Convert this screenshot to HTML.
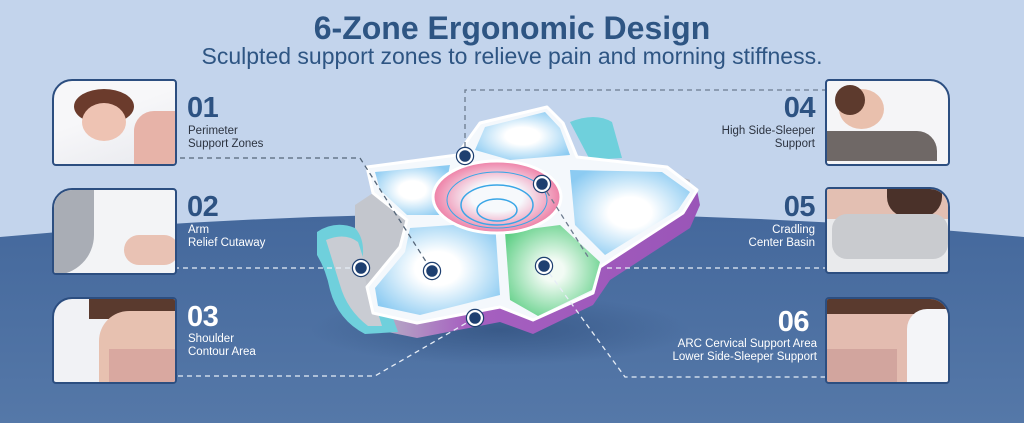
<!DOCTYPE html>
<html><head><meta charset="utf-8"><style>
body{margin:0;width:1024px;height:423px;overflow:hidden;font-family:"Liberation Sans",sans-serif;}
.wrap{position:relative;width:1024px;height:423px;background:#c3d4ec;}
.t{position:absolute;left:0;width:1024px;text-align:center;color:#2e5583;}
.card{position:absolute;width:121px;height:83px;border:2px solid #2c4e80;border-radius:4px;overflow:hidden;background:#f4f5f8;}
.L{border-top-left-radius:20px;}
.R{border-top-right-radius:20px;}
.num{position:absolute;font-weight:bold;font-size:29px;line-height:30px;letter-spacing:-0.5px;}
.lab{position:absolute;font-size:11.5px;line-height:13px;}
</style></head><body><div class="wrap">
<svg width="1024" height="423" style="position:absolute;left:0;top:0">
<defs>
<linearGradient id="bg" x1="0" y1="0" x2="0" y2="1"><stop offset="0" stop-color="#44689c"/><stop offset="1" stop-color="#5578a8"/></linearGradient>
<radialGradient id="pan" cx="0.5" cy="0.5" r="0.6"><stop offset="0.3" stop-color="#ffffff"/><stop offset="1" stop-color="#8ccbf2"/></radialGradient>
<radialGradient id="grn" cx="0.5" cy="0.5" r="0.6"><stop offset="0.2" stop-color="#f2fbf4"/><stop offset="1" stop-color="#5fcf86"/></radialGradient>
<radialGradient id="pk" cx="0.5" cy="0.5" r="0.5"><stop offset="0.4" stop-color="#f6f9fc"/><stop offset="1" stop-color="#ee7fa6"/></radialGradient>
<linearGradient id="side" x1="0" y1="0" x2="1" y2="0"><stop offset="0" stop-color="#b9bcc6"/><stop offset="0.3" stop-color="#a660c0"/><stop offset="1" stop-color="#9a55b8"/></linearGradient>
<radialGradient id="sh" cx="0.5" cy="0.5" r="0.5"><stop offset="0" stop-color="#2c4b78" stop-opacity="0.6"/><stop offset="1" stop-color="#2c4b78" stop-opacity="0"/></radialGradient>
</defs>
<path d="M0,237 Q512,190 1024,237 L1024,423 L0,423Z" fill="url(#bg)"/>
<ellipse cx="500" cy="330" rx="190" ry="35" fill="url(#sh)"/>
<!-- back teal -->
<path d="M570,122 Q595,112 612,122 L622,158 L590,160Z" fill="#6fd0dc"/>
<path d="M660,170 L690,180 L688,200 L665,190Z" fill="#b9bcc6"/>
<!-- side depth -->
<path d="M367,287 L378,330 L417,338 L500,322 L533,334 L593,305 L610,280 L690,228 L700,205 L697,190 L683,213 L600,267 L593,293 L533,320 L500,307 L417,323 L373,313Z" fill="url(#side)"/>
<!-- left wing -->
<path d="M317,232 Q335,220 355,228 Q372,238 378,265 Q386,300 398,332 L365,334 Q338,320 330,290 Q326,270 317,255Z" fill="#6fd0dc"/>
<path d="M326,240 Q345,232 358,242 Q366,265 374,300 L382,326 L368,326 Q347,310 340,285Z" fill="#c9ccd3"/>
<path d="M355,205 L373,193 L407,220 L400,247 L367,287 L362,262 Q366,240 355,228Z" fill="#c3c6cd"/>
<!-- top surface -->
<path d="M367,167 L457,155 L480,123 L547,107 L563,123 L577,157 L667,167 L697,190 L683,213 L600,267 L593,293 L533,320 L500,307 L417,323 L373,313 L367,287 L400,247 L407,220 L373,193Z" fill="#f4f8fc" stroke="#ffffff" stroke-width="3" stroke-linejoin="round"/>
<path d="M375,172 L450,165 L440,215 L407,215 L380,190Z" fill="url(#pan)"/>
<path d="M475,150 L485,127 L545,112 L560,128 L570,155 L510,160Z" fill="url(#pan)"/>
<path d="M570,170 L662,172 L690,192 L678,210 L605,255 L575,225 Z" fill="url(#pan)"/>
<path d="M410,228 L495,222 L500,295 L420,315 L378,306 L375,288 L405,252Z" fill="url(#pan)"/>
<path d="M505,232 L560,225 L600,262 L592,290 L538,316 L510,300Z" fill="url(#grn)"/>
<ellipse cx="497" cy="197" rx="64" ry="36" fill="url(#pk)" stroke="#fff" stroke-width="3"/>
<ellipse cx="497" cy="205" rx="36" ry="20" fill="none" stroke="#3aa6e6" stroke-width="1.5"/>
<ellipse cx="497" cy="210" rx="20" ry="11" fill="none" stroke="#3aa6e6" stroke-width="1.5"/>
<ellipse cx="497" cy="200" rx="50" ry="28" fill="none" stroke="#3aa6e6" stroke-width="1"/>
<!-- connectors -->
<g fill="none" stroke-dasharray="5,4" stroke-width="1.3">
<path d="M180,158 L360,158 L432,271" stroke="#556679"/>
<path d="M165,268 L361,268" stroke="#e6edf6"/>
<path d="M160,376 L375,376 L475,318" stroke="#e6edf6"/>
<path d="M465,156 L465,90 L830,90" stroke="#6c7b8e"/>
<path d="M607,268 L825,268" stroke="#e6edf6"/>
<path d="M542,184 L590,260" stroke="#6c7b8e"/>
<path d="M544,266 L625,377 L825,377" stroke="#e6edf6"/>
</g>
<g fill="#1e3f70" stroke="#fff" stroke-width="2.5">
<circle cx="465" cy="156" r="7"/><circle cx="542" cy="184" r="7"/><circle cx="432" cy="271" r="7"/>
<circle cx="361" cy="268" r="7"/><circle cx="544" cy="266" r="7"/><circle cx="475" cy="318" r="7"/>
</g>
<g fill="none" stroke="#1e3f70" stroke-width="1.2">
<circle cx="465" cy="156" r="8.6"/><circle cx="542" cy="184" r="8.6"/><circle cx="432" cy="271" r="8.6"/>
<circle cx="361" cy="268" r="8.6"/><circle cx="544" cy="266" r="8.6"/><circle cx="475" cy="318" r="8.6"/>
</g>
</svg>
<div class="t" style="top:10px;font-size:32px;font-weight:bold;">6-Zone Ergonomic Design</div>
<div class="t" style="top:43px;font-size:23px;">Sculpted support zones to relieve pain and morning stiffness.</div>

<div class="card L" style="left:52px;top:79px;background:linear-gradient(160deg,#f7f7f9 40%,#e8e9ee);">
<div style="position:absolute;left:20px;top:8px;width:60px;height:35px;border-radius:50%;background:#6b3b2c;"></div>
<div style="position:absolute;left:28px;top:22px;width:44px;height:38px;border-radius:50%;background:#eec3b3;"></div>
<div style="position:absolute;left:80px;top:30px;width:45px;height:55px;background:#e7b3a8;border-radius:20px 0 0 0;"></div>
</div>
<div class="card L" style="left:52px;top:188px;background:#f3f4f6;">
<div style="position:absolute;left:0;top:0;width:40px;height:85px;background:#a9adb5;border-radius:0 0 40px 0;"></div>
<div style="position:absolute;left:70px;top:45px;width:55px;height:30px;background:#e9c2b4;border-radius:15px;"></div>
</div>
<div class="card L" style="left:52px;top:297px;background:#f1f2f5;">
<div style="position:absolute;left:35px;top:0;width:90px;height:20px;background:#5a3a2e;"></div>
<div style="position:absolute;left:45px;top:12px;width:80px;height:75px;background:#e7c1b0;border-radius:30px 0 0 0;"></div>
<div style="position:absolute;left:55px;top:50px;width:70px;height:35px;background:#d9a8a0;"></div>
</div>
<div class="card R" style="left:825px;top:79px;background:#f5f5f7;">
<div style="position:absolute;left:0;top:50px;width:110px;height:30px;background:#6f6866;border-radius:0 20px 0 0;"></div>
<div style="position:absolute;left:12px;top:8px;width:45px;height:40px;border-radius:50%;background:#e9c0ad;"></div>
<div style="position:absolute;left:8px;top:4px;width:30px;height:30px;border-radius:50%;background:#5d3a2d;"></div>
</div>
<div class="card R" style="left:825px;top:187px;background:#e9eaec;">
<div style="position:absolute;left:0;top:0;width:121px;height:30px;background:#e3bfb2;"></div>
<div style="position:absolute;left:60px;top:0;width:55px;height:28px;background:#4a3129;border-radius:0 0 20px 20px;"></div>
<div style="position:absolute;left:5px;top:25px;width:116px;height:45px;background:#c9cbcf;border-radius:15px;"></div>
</div>
<div class="card R" style="left:825px;top:297px;background:#e3bcb0;">
<div style="position:absolute;left:0;top:0;width:121px;height:15px;background:#5a3a2e;"></div>
<div style="position:absolute;left:80px;top:10px;width:41px;height:73px;background:#f4f5f8;border-radius:20px 0 0 0;"></div>
<div style="position:absolute;left:0;top:50px;width:70px;height:33px;background:#d2a59e;"></div>
</div>

<div class="num" style="left:187px;top:93px;color:#2d5282;">01</div>
<div class="lab" style="left:188px;top:125px;color:#2c3340;">Perimeter<br>Support Zones</div>
<div class="num" style="left:187px;top:192px;color:#2d5282;">02</div>
<div class="lab" style="left:188px;top:224px;color:#fff;">Arm<br>Relief Cutaway</div>
<div class="num" style="left:187px;top:302px;color:#fff;">03</div>
<div class="lab" style="left:188px;top:333px;color:#fff;">Shoulder<br>Contour Area</div>

<div class="num" style="right:209px;top:93px;color:#2d5282;text-align:right;">04</div>
<div class="lab" style="right:209px;top:125px;color:#2c3340;text-align:right;">High Side-Sleeper<br>Support</div>
<div class="num" style="right:209px;top:192px;color:#2d5282;text-align:right;">05</div>
<div class="lab" style="right:209px;top:224px;color:#fff;text-align:right;">Cradling<br>Center Basin</div>
<div class="num" style="right:215px;top:307px;color:#fff;text-align:right;">06</div>
<div class="lab" style="right:207px;top:338px;color:#fff;text-align:right;">ARC Cervical Support Area<br>Lower Side-Sleeper Support</div>
</div></body></html>
